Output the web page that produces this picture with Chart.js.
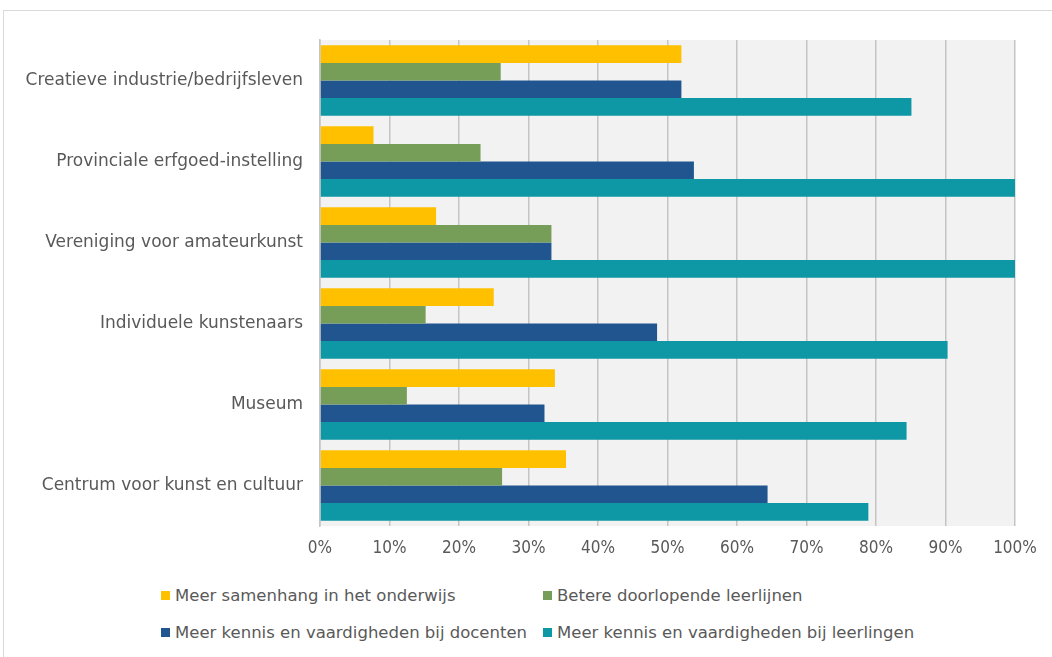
<!DOCTYPE html>
<html>
<head>
<meta charset="utf-8">
<script src="https://cdn.jsdelivr.net/npm/chart.js@4"></script>
<style>
    body { margin: 0; background: #fff; width: 1052px; height: 657px; overflow: hidden; position: relative; }
    #frame { position: absolute; left: 3px; top: 10px; width: 1100px; height: 700px; border: 1px solid #d9d9d9; }
    #wrap { position: absolute; left: 0; top: 0; width: 1052px; height: 570px; }
    .legend-item { position: absolute; font-family: "DejaVu Sans", sans-serif; font-size: 16.5px; color: #595959; white-space: nowrap; line-height: 20px; }
    .legend-item span { display: inline-block; width: 9px; height: 9px; margin-right: 5px; vertical-align: 1px; }
</style>
</head>
<body>
<div id="frame"></div>
<div id="wrap"><canvas id="barChart"></canvas></div>
<div id="legend"></div>
<script>
const categories = [
    'Creatieve industrie/bedrijfsleven',
    'Provinciale erfgoed-instelling',
    'Vereniging voor amateurkunst',
    'Individuele kunstenaars',
    'Museum',
    'Centrum voor kunst en cultuur'
];

const seriesNames = [
    'Meer samenhang in het onderwijs',
    'Betere doorlopende leerlijnen',
    'Meer kennis en vaardigheden bij docenten',
    'Meer kennis en vaardigheden bij leerlingen'
];

const samenhang = [52, 7.7, 16.7, 25, 33.8, 35.4];
const leerlijnen = [26, 23.1, 33.3, 15.2, 12.5, 26.2];
const docenten = [52, 53.8, 33.3, 48.5, 32.3, 64.4];
const leerlingen = [85.1, 100, 100, 90.3, 84.4, 78.9];

const colors = ['#ffc000', '#779e59', '#215590', '#0e97a4'];

document.addEventListener('DOMContentLoaded', () => {
    const ctx = document.getElementById('barChart').getContext('2d');
    const values = [samenhang, leerlijnen, docenten, leerlingen];

    let ds = [];
    seriesNames.forEach((name, i) => {
        ds.push({
            label: name,
            data: values[i],
            backgroundColor: colors[i],
            borderWidth: 0,
            barPercentage: 1,
            categoryPercentage: 0.87
        });
    });

    // grey plot background
    const plotBg = {
        id: 'plotBg',
        beforeDraw(chart) {
            const a = chart.chartArea;
            chart.ctx.save();
            chart.ctx.fillStyle = '#f2f2f2';
            chart.ctx.fillRect(a.left, a.top, a.right - a.left, a.bottom - a.top);
            chart.ctx.restore();
        }
    };

    const chart = new Chart(ctx, {
        type: 'bar',
        data: { labels: categories, datasets: ds },
        plugins: [plotBg],
        options: {
            indexAxis: 'y',
            responsive: true,
            maintainAspectRatio: false,
            animation: false,
            layout: { padding: { top: 40, right: 37, left: 0, bottom: 0 } },
            plugins: {
                legend: { display: false },
                tooltip: { enabled: false }
            },
            scales: {
                x: {
                    min: 0,
                    max: 100,
                    ticks: {
                        stepSize: 10,
                        padding: 12,
                        color: '#595959',
                        font: { family: 'DejaVu Sans Condensed', size: 17 },
                        callback: v => v + '%'
                    },
                    grid: { color: '#c4c4c4', lineWidth: 1.5, drawTicks: false },
                    border: { display: false },
                    afterFit: scale => { scale.height = 44; }
                },
                y: {
                    ticks: {
                        padding: 17,
                        color: '#595959',
                        font: { family: 'DejaVu Sans', size: 17 }
                    },
                    grid: { display: false, drawTicks: false },
                    border: { color: '#c4c4c4', width: 1.5 },
                    afterFit: scale => { scale.width = 320; }
                }
            }
        }
    });

    // legend in two aligned columns
    const legend = document.getElementById('legend');
    const pos = [[161, 586], [543, 586], [161, 623], [543, 623]];
    chart.data.datasets.forEach((d, i) => {
        const item = document.createElement('div');
        item.className = 'legend-item';
        item.style.left = pos[i][0] + 'px';
        item.style.top = pos[i][1] + 'px';
        item.innerHTML = '<span style="background:' + d.backgroundColor + '"></span>' + d.label;
        legend.appendChild(item);
    });
});
</script>
</body>
</html>
